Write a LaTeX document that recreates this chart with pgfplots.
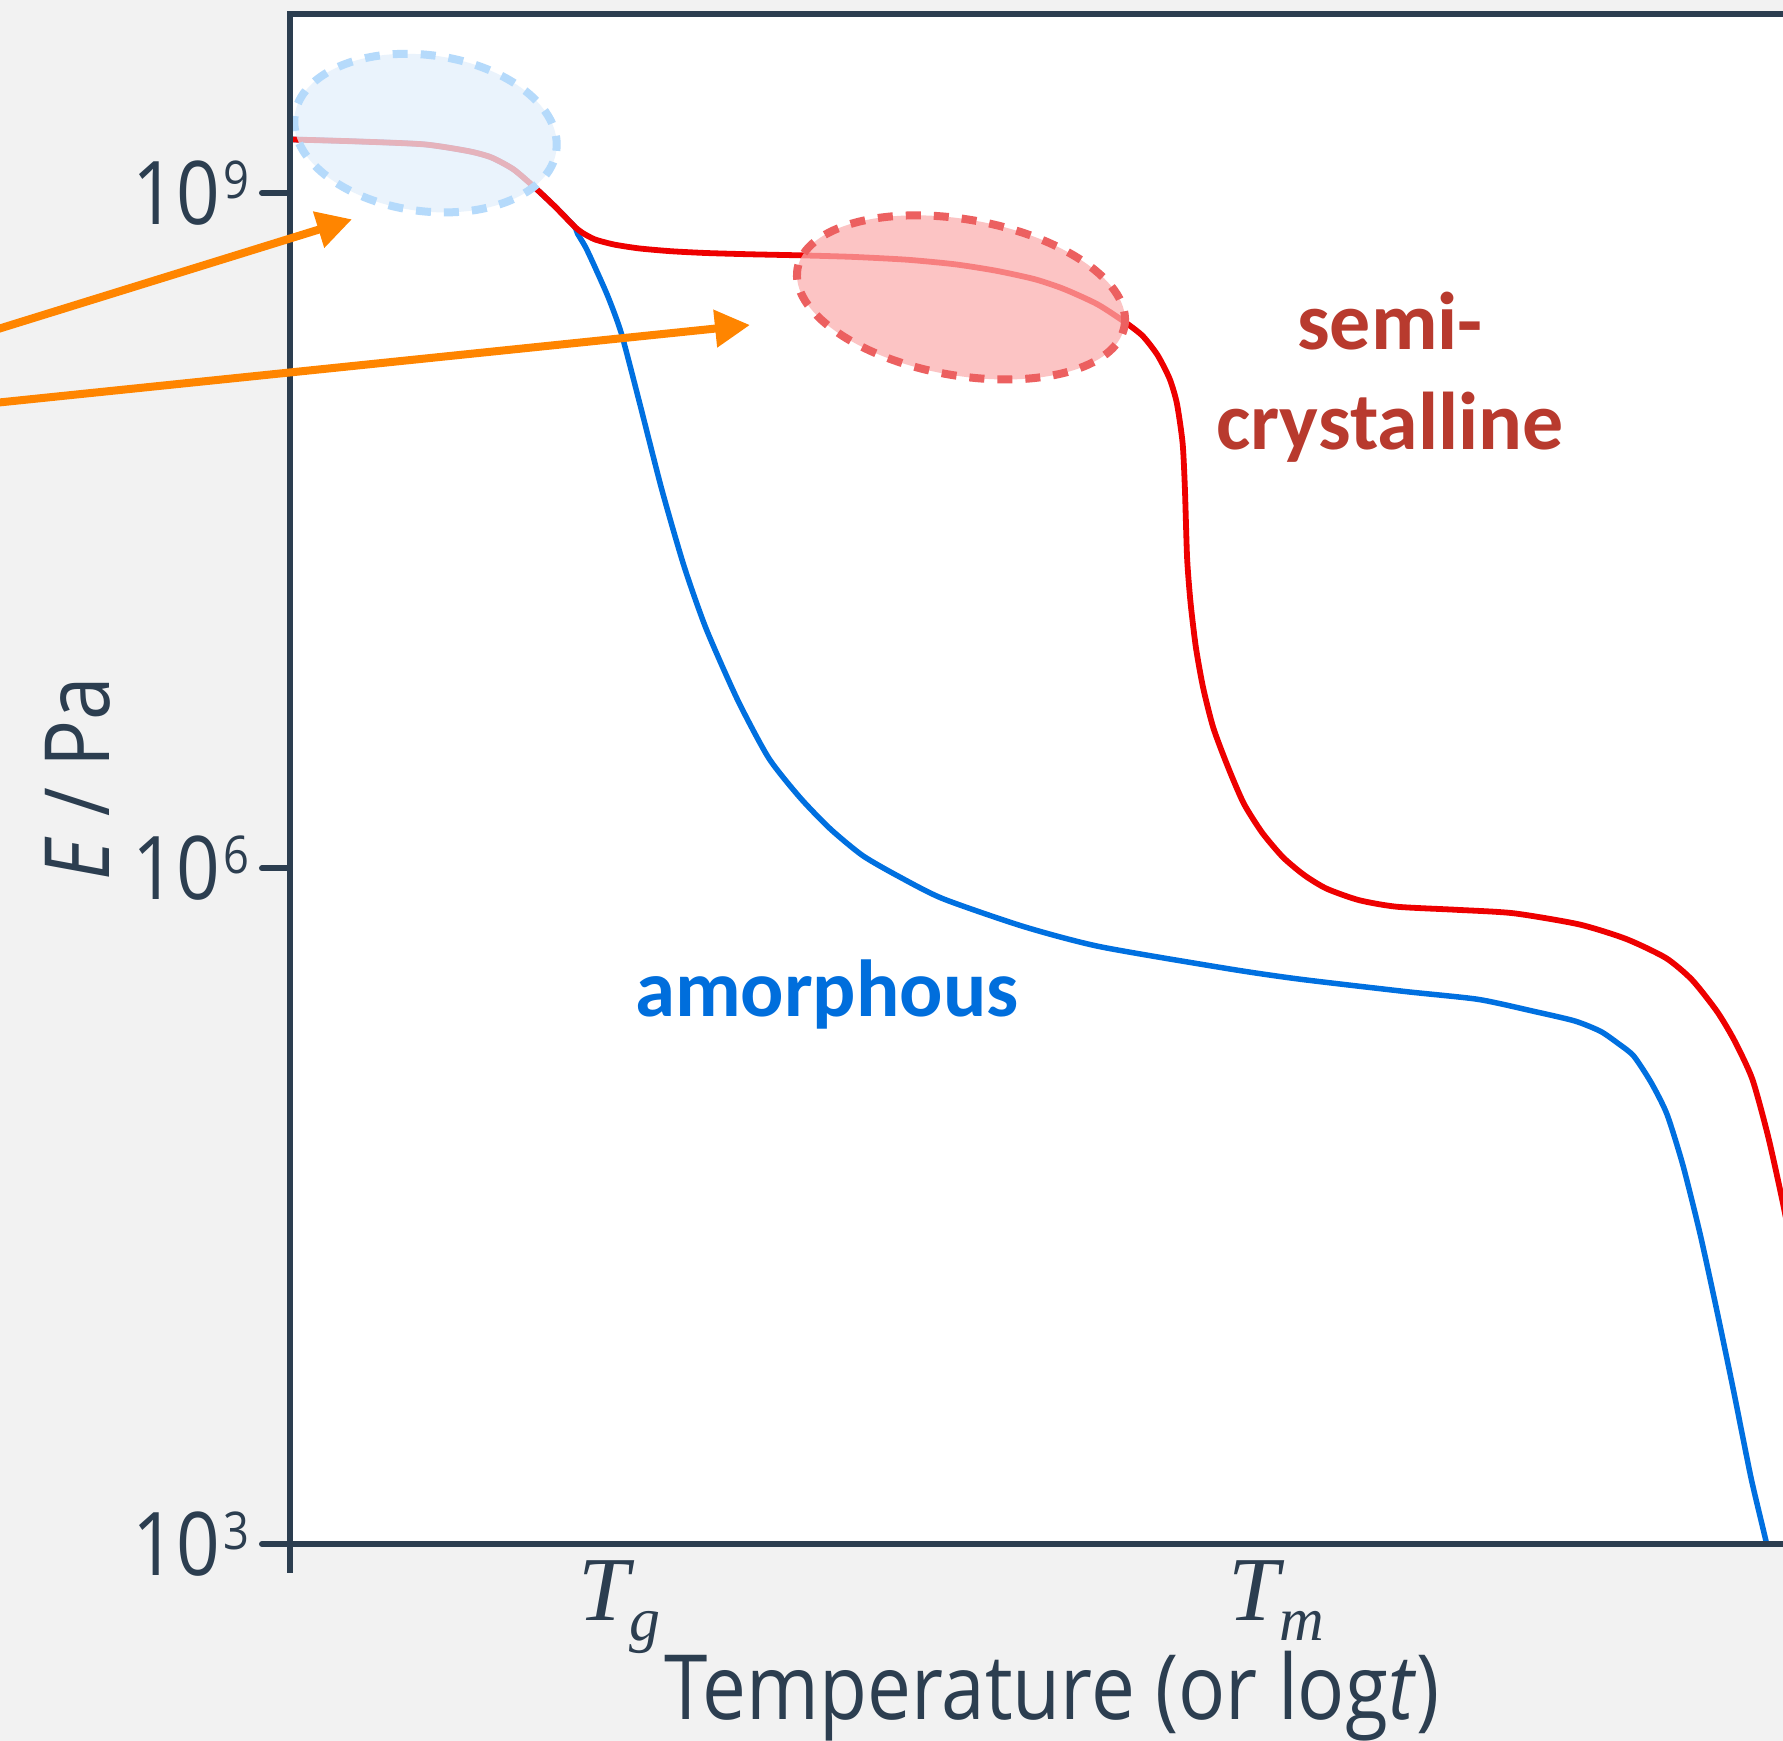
\documentclass[border=0pt]{standalone}
\usepackage{fontspec}
\setmainfont{Carlito}
\newfontfamily\axisfont{Open Sans}
\newfontfamily\symfont{Liberation Serif}
\usepackage{graphicx}
\usepackage{pgfplots}
\usepackage{pgfplotstable}
\pgfplotsset{compat=1.18}
\usetikzlibrary{arrows.meta,shapes.geometric}

\definecolor{axisgray}{RGB}{44,62,80}
\definecolor{bggray}{RGB}{242,242,242}
\definecolor{amblue}{RGB}{0,112,224}
\definecolor{scred}{RGB}{238,0,0}
\definecolor{amtext}{RGB}{0,110,220}
\definecolor{sctext}{RGB}{184,58,46}
\definecolor{arroworange}{RGB}{255,133,0}
\definecolor{glassfill}{RGB}{227,240,252}
\definecolor{glassedge}{RGB}{181,218,251}
\definecolor{crystfill}{RGB}{251,175,175}
\definecolor{crystedge}{RGB}{236,96,96}

% slightly condensed axis text
\newcommand{\sx}[1]{\scalebox{0.87}[1]{#1}}
\newcommand{\decade}[1]{\sx{\axisfont\fontsize{25}{25}\selectfont 10\kern0.35mm\raisebox{2.6mm}{\fontsize{14.8}{14.8}\selectfont #1}}}
\newcommand{\temp}[1]{{\symfont\itshape\fontsize{26}{26}\selectfont T\raisebox{-2.0mm}{\fontsize{17.6}{17.6}\selectfont #1}}}

% modulus E (Pa) against temperature, arbitrary temperature units
\pgfplotstableread{
x      E
0.011  1.725e9
0.670  1.69e9
1.341  1.64e9
1.785  1.53e9
2.012  1.436e9
2.235  1.27e9
2.456  1.047e9
2.649  8.69e8
2.842  7.10e8
2.876  6.58e8
2.956  5.73e8
3.047  4.70e8
3.183  3.43e8
3.314  2.37e8
3.491  1.19e8
3.718  4.81e7
3.940  2.20e7
4.161  1.16e7
4.475  5.61e6
4.787  3.09e6
5.101  2.06e6
5.401  1.50e6
5.726  1.14e6
6.083  9.23e5
6.527  7.34e5
7.334  5.52e5
8.100  4.49e5
9.407  3.57e5
10.101 3.22e5
11.149 2.84e5
11.882 2.62e5
12.435 2.32e5
12.849 2.10e5
13.105 1.89e5
13.281 1.67e5
13.436 1.47e5
13.611 1.12e5
13.769 8.11e4
13.929 4.81e4
14.102 2.37e4
14.270 1.08e4
14.436 4.78e3
14.611 1.96e3
14.769 988
14.805 774
}\amorphous

\pgfplotstableread{
x      E
0.000  1.725e9
0.670  1.69e9
1.341  1.64e9
1.785  1.53e9
2.012  1.436e9
2.235  1.27e9
2.456  1.047e9
2.649  8.69e8
2.842  7.10e8
2.922  6.65e8
3.047  6.21e8
3.240  5.89e8
3.491  5.66e8
3.809  5.50e8
4.161  5.40e8
4.605  5.33e8
5.123  5.27e8
5.628  5.19e8
6.174  5.04e8
6.652  4.81e8
7.066  4.50e8
7.448  4.13e8
7.738  3.74e8
8.073  3.20e8
8.357  2.65e8
8.528  2.31e8
8.676  1.90e8
8.797  1.49e8
8.869  1.16e8
8.926  7.74e7
8.949  4.86e7
8.971  2.39e7
9.005  1.52e7
9.059  9.57e6
9.131  6.35e6
9.233  4.21e6
9.381  2.81e6
9.538  1.94e6
9.722  1.44e6
9.930  1.12e6
10.143 9.33e5
10.365 8.13e5
10.688 7.23e5
11.061 6.76e5
11.655 6.55e5
12.235 6.32e5
12.891 5.64e5
13.361 4.86e5
13.759 4.00e5
14.020 3.20e5
14.269 2.32e5
14.441 1.73e5
14.623 1.16e5
14.782 6.43e4
14.930 3.25e4
15.066 1.59e4
}\semicryst

\begin{document}
\begin{tikzpicture}
\useasboundingbox (0,0) rectangle (178.3mm,-174.1mm);
\fill[bggray] (0,0) rectangle (178.3mm,-174.1mm);
\clip (0,0) rectangle (178.3mm,-174.1mm);
\begin{axis}[
  name=main,
  at={(29mm,-154.4mm)}, anchor=south west,
  scale only axis, width=160mm, height=153mm,
  xmin=0, xmax=16, ymode=log, ymin=1e3, ymax=6.22e9,
  axis on top,
  axis background/.style={fill=white},
  axis line style={axisgray, line width=0.6mm},
  ytick={1e3,1e6,1e9}, yticklabels={\decade{3},\decade{6},\decade{9}},
  yminorticks=false, xminorticks=false,
  ytick pos=left, tick align=outside, major tick length=2.8mm,
  ytick style={axisgray, line width=0.6mm, line cap=round},
  xtick={3.295,9.86}, xticklabels={\temp{g},\temp{m}},
  xtick style={draw=none},
  yticklabel style={anchor=east, inner sep=0pt, text=axisgray, xshift=-1.2mm},
  xticklabel style={anchor=base, inner sep=0pt, text=axisgray, yshift=-4.9mm},
  xlabel={\sx{\axisfont\fontsize{25.6}{25.6}\selectfont Temperature (or log\textit{t})}},
  xlabel style={at={(axis description cs:0.4763,-0.1150)}, anchor=base, inner sep=0pt, text=axisgray},
  ylabel={\sx{\axisfont\fontsize{25.6}{25.6}\selectfont \textit{E} / Pa}},
  ylabel style={at={(axis description cs:-0.1125,0.5)}, anchor=base, inner sep=0pt, text=axisgray},
]
\addplot[amblue, line width=0.55mm, smooth, tension=0.4] table[x=x, y=E] {\amorphous};
\addplot[scred, line width=0.58mm, smooth, tension=0.4] table[x=x, y=E] {\semicryst};

% highlighted plateaus
\node[ellipse, inner sep=0pt, minimum width=26.4mm, minimum height=15.6mm, rotate=-7.7,
      fill=glassfill, fill opacity=0.75, draw=glassedge, line width=0.8mm,
      dash pattern=on 1.5mm off 1.3mm] at (axis cs:1.355,1.84e9) {};
\node[ellipse, inner sep=0pt, minimum width=33.2mm, minimum height=15.6mm, rotate=-10,
      fill=crystfill, fill opacity=0.73, draw=crystedge, line width=0.8mm,
      dash pattern=on 1.5mm off 1.3mm] at (axis cs:6.71,3.43e8) {};

\node[anchor=base, text=sctext, font=\bfseries\fontsize{23.3}{23.3}\selectfont] at (axis cs:11.0,2.02e8) {semi-};
\node[anchor=base, text=sctext, font=\bfseries\fontsize{23.3}{23.3}\selectfont] at (axis cs:11.0,7.28e7) {crystalline};
\node[anchor=base, text=amtext, font=\bfseries\fontsize{23}{23}\selectfont] at (axis cs:5.37,2.19e5) {amorphous};
\end{axis}
\draw[axisgray, line width=0.6mm] (main.south west) -- ++(0,-2.9mm);
\begin{scope}[x=0.1mm, y=-0.1mm]
\draw[arroworange, line width=0.8mm, -{Triangle[length=3.5mm, width=3.6mm]}] (-100,359.4) -- (352,219.3);
\draw[arroworange, line width=0.8mm, -{Triangle[length=3.5mm, width=3.6mm]}] (-100,412.7) -- (750,325);
\end{scope}
\end{tikzpicture}
\end{document}
